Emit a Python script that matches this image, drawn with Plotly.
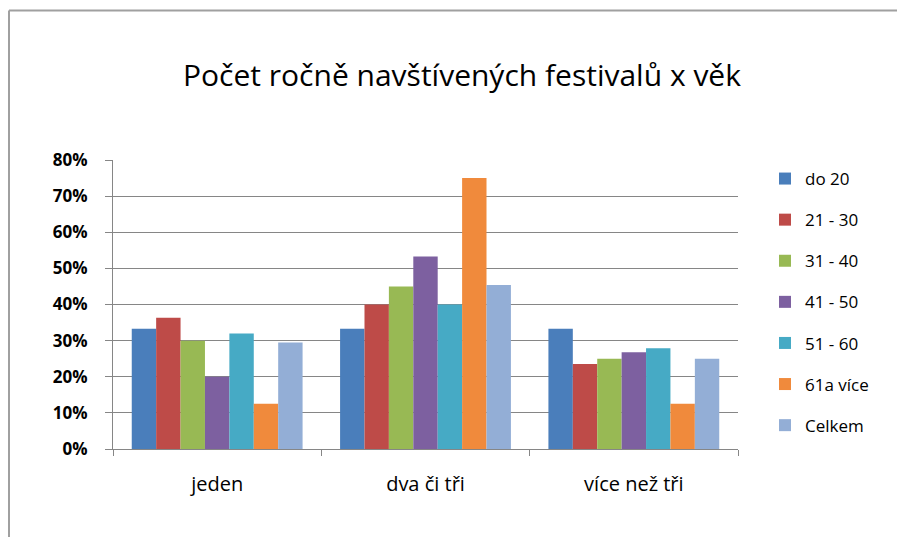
import plotly.graph_objects as go

categories = ["jeden", "dva či tři", "více než tři"]
series_names = ["do 20", "21 - 30", "31 - 40", "41 - 50", "51 - 60", "61a více", "Celkem"]
values = [
    [0.333, 0.333, 0.333],   # do 20
    [0.363, 0.40, 0.235],    # 21 - 30
    [0.30, 0.45, 0.25],      # 31 - 40
    [0.20, 0.533, 0.268],    # 41 - 50
    [0.32, 0.40, 0.279],     # 51 - 60
    [0.125, 0.75, 0.125],    # 61a více
    [0.295, 0.454, 0.25],    # Celkem
]
colors = ["#4A7EBB", "#BE4B48", "#98B954", "#7D60A0", "#46AAC5", "#F08A3C", "#93AED6"]

fig = go.Figure()
for name, vals, col in zip(series_names, values, colors):
    fig.add_trace(go.Bar(x=categories, y=vals, name=name, marker_color=col,
                         marker_line_width=0, legendgroup=name))

W, H = 897, 537
pw, ph = 625, 289
ml, mt = 113, 160
mr, mb = W - ml - pw, H - mt - ph

FONT = "Open Sans, Lato, sans-serif"
fig.update_layout(
    width=W, height=H,
    margin=dict(l=ml, r=mr, t=mt, b=mb),
    paper_bgcolor="white", plot_bgcolor="white",
    font=dict(family=FONT, color="#000000"),
    barmode="group", bargap=0.18, bargroupgap=0,
    title=dict(text="Počet ročně navštívených festivalů x věk", x=462 / W, xanchor="center",
               y=1 - 75 / H, yanchor="middle", font=dict(size=30, color="#000000")),
    legend=dict(x=(765 - ml) / pw, xanchor="left", y=1 - (161 - mt) / ph, yanchor="top",
                font=dict(size=17), tracegroupgap=16, itemwidth=30, bgcolor="rgba(0,0,0,0)"),
    showlegend=True,
)
fig.update_yaxes(range=[0, 0.8], dtick=0.1, tickformat=".0%", showgrid=True, gridcolor="#868686",
                 gridwidth=1, showline=True, linecolor="#868686", ticks="outside", ticklen=7,
                 tickcolor="#868686", ticklabelstandoff=14,
                 tickfont=dict(size=17, color="#000000", weight="bold"), zeroline=False)
fig.update_xaxes(showline=True, linecolor="#868686", ticks="outside", tickson="boundaries",
                 ticklen=6, tickcolor="#868686", ticklabelstandoff=17,
                 tickfont=dict(size=20, color="#000000"))

# outer chart frame: only its left and top edges fall inside the picture
fx0, fy1 = (9 - ml) / pw, (449 - 10.5) / ph
frame = dict(color="#A0A0A0", width=2)
fig.add_shape(type="line", xref="paper", yref="paper", x0=fx0, x1=fx0, y0=-1, y1=fy1, line=frame)
fig.add_shape(type="line", xref="paper", yref="paper", x0=fx0, x1=2, y0=fy1, y1=fy1, line=frame)

# drop the browser's default 8px body margin, hide the modebar
fig.write_html("out.html", config={"displayModeBar": False},
               post_script="document.body.style.margin='0';document.body.style.overflow='hidden';")
